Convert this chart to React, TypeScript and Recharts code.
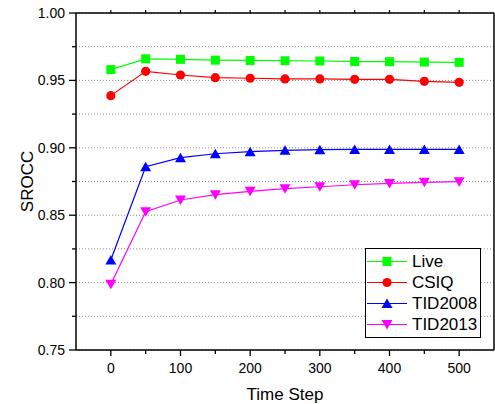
import { LineChart, Line, XAxis, YAxis, CartesianGrid, Legend } from 'recharts'

const FONT = '"Liberation Sans", Arial, sans-serif'

// values
const TIME_STEPS = [0, 50, 100, 150, 200, 250, 300, 350, 400, 450, 500]
const LIVE = [0.958, 0.966, 0.9656, 0.965, 0.9648, 0.9646, 0.9644, 0.964, 0.9639, 0.9636, 0.9634]
const CSIQ = [0.9387, 0.9567, 0.954, 0.952, 0.9516, 0.9511, 0.9511, 0.9508, 0.9508, 0.9493, 0.9486]
const TID2008 = [0.8168, 0.886, 0.8927, 0.8956, 0.8971, 0.8981, 0.8986, 0.8988, 0.8988, 0.8988, 0.8988]
const TID2013 = [0.7987, 0.8526, 0.8613, 0.8652, 0.8677, 0.8697, 0.8711, 0.8726, 0.8736, 0.8744, 0.8749]

const X_TICKS = [0, 50, 100, 150, 200, 250, 300, 350, 400, 450, 500]
const Y_TICKS = [0.75, 0.775, 0.8, 0.825, 0.85, 0.875, 0.9, 0.925, 0.95, 0.975, 1.0]

const data = TIME_STEPS.map((t, i) => ({
  t,
  Live: LIVE[i],
  CSIQ: CSIQ[i],
  TID2008: TID2008[i],
  TID2013: TID2013[i],
}))

type Shape = 'square' | 'circle' | 'up' | 'down'

const SERIES: { key: string; color: string; shape: Shape }[] = [
  { key: 'Live', color: '#00ff00', shape: 'square' },
  { key: 'CSIQ', color: '#ff0000', shape: 'circle' },
  { key: 'TID2008', color: '#0000ff', shape: 'up' },
  { key: 'TID2013', color: '#ff00ff', shape: 'down' },
]

function Marker({ cx, cy, shape, color }: { cx: number; cy: number; shape: Shape; color: string }) {
  if (shape === 'square') return <rect x={cx - 4.5} y={cy - 4.5} width={9} height={9} fill={color} />
  if (shape === 'circle') return <circle cx={cx} cy={cy} r={4.6} fill={color} />
  if (shape === 'up')
    return <polygon points={`${cx},${cy - 5} ${cx + 5.5},${cy + 4.5} ${cx - 5.5},${cy + 4.5}`} fill={color} />
  return <polygon points={`${cx},${cy + 5} ${cx + 5.5},${cy - 4.5} ${cx - 5.5},${cy - 4.5}`} fill={color} />
}

const isMajorY = (v: number) => Math.round(v * 1000) % 50 === 0

const BottomTick = (props: any) => {
  const { x, y, payload } = props
  const major = payload.value % 100 === 0
  return (
    <g>
      <line x1={x} x2={x} y1={y} y2={y + (major ? 6 : 4)} stroke="#000" strokeWidth={1.3} />
      {major && (
        <text x={x} y={y + 22.5} textAnchor="middle" fontSize={14} fontFamily={FONT} fill="#000">
          {payload.value}
        </text>
      )}
    </g>
  )
}

const TopTick = (props: any) => {
  const { x, y } = props
  return <line x1={x} x2={x} y1={y} y2={y - 3} stroke="#000" strokeWidth={1.2} />
}

const LeftTick = (props: any) => {
  const { x, y, payload } = props
  const major = isMajorY(payload.value)
  return (
    <g>
      <line x1={x - (major ? 7 : 4)} x2={x} y1={y} y2={y} stroke="#000" strokeWidth={1.3} />
      {major && (
        <text x={x - 11} y={y} dy="0.36em" textAnchor="end" fontSize={14} fontFamily={FONT} fill="#000">
          {payload.value.toFixed(2)}
        </text>
      )}
    </g>
  )
}

const RightTick = (props: any) => {
  const { x, y } = props
  return <line x1={x - 4} x2={x} y1={y} y2={y} stroke="#000" strokeWidth={1.2} />
}

// legend keeps the plotting order of the series
const LegendBox = () => (
  <div
    style={{
      border: '1px solid #000',
      background: '#fff',
      width: 114,
      padding: '2px 0',
      fontFamily: FONT,
      fontSize: 17,
      color: '#000',
    }}
  >
    {SERIES.map(s => (
      <div key={s.key} style={{ display: 'flex', alignItems: 'center', height: 21 }}>
        <svg width={42} height={21} style={{ display: 'block', flex: 'none' }}>
          <line x1={1} x2={41} y1={10.5} y2={10.5} stroke={s.color} strokeWidth={1.2} />
          <Marker cx={21} cy={10.5} shape={s.shape} color={s.color} />
        </svg>
        <span style={{ marginLeft: 4, lineHeight: '21px' }}>{s.key}</span>
      </div>
    ))}
  </div>
)

export default function App() {
  return (
    <div style={{ position: 'absolute', left: 0, top: 0, background: '#fff' }}>
      <LineChart width={495} height={404} data={data} margin={{ top: 12, right: 0, bottom: 0, left: 0 }}>
        <CartesianGrid
          yAxisId="left"
          vertical={false}
          stroke="#8a8a8a"
          strokeDasharray="1 2"
        />
        <XAxis
          dataKey="t"
          type="number"
          domain={[-50, 550]}
          ticks={X_TICKS}
          height={54}
          tickSize={0}
          tickMargin={0}
          tickLine={false}
          tick={<BottomTick />}
          axisLine={{ stroke: '#000', strokeWidth: 1.5 }}
          interval={0}
          label={{
            value: 'Time Step',
            position: 'insideBottom',
            offset: 4,
            style: { fontSize: 17, fontFamily: FONT, fill: '#000' },
          }}
        />
        <XAxis
          xAxisId="top"
          orientation="top"
          dataKey="t"
          type="number"
          domain={[-50, 550]}
          ticks={X_TICKS}
          height={1}
          tickSize={0}
          tickMargin={0}
          tickLine={false}
          tick={<TopTick />}
          interval={0}
          axisLine={{ stroke: '#000', strokeWidth: 1.5 }}
        />
        <YAxis
          yAxisId="left"
          type="number"
          domain={[0.75, 1.0]}
          ticks={Y_TICKS}
          width={76}
          tickSize={0}
          tickMargin={0}
          tickLine={false}
          tick={<LeftTick />}
          interval={0}
          axisLine={{ stroke: '#000', strokeWidth: 1.5 }}
          label={{
            value: 'SROCC',
            angle: -90,
            position: 'insideLeft',
            offset: 27,
            textAnchor: 'middle',
            style: { fontSize: 17, fontFamily: FONT, fill: '#000', textAnchor: 'middle' },
          }}
        />
        <YAxis
          yAxisId="right"
          orientation="right"
          type="number"
          domain={[0.75, 1.0]}
          ticks={Y_TICKS}
          width={1}
          tickSize={0}
          tickMargin={0}
          tickLine={false}
          tick={<RightTick />}
          interval={0}
          axisLine={{ stroke: '#000', strokeWidth: 1.5 }}
        />
        <Legend
          layout="vertical"
          align="center"
          verticalAlign="middle"
          content={<LegendBox />}
          wrapperStyle={{ left: 365, top: 248, width: 'auto', right: 'auto' }}
        />
        {SERIES.map(s => (
          <Line
            key={s.key}
            yAxisId="left"
            dataKey={s.key}
            name={s.key}
            type="linear"
            stroke={s.color}
            strokeWidth={1.2}
            isAnimationActive={false}
            dot={(p: any) => <Marker key={`${s.key}-${p.index}`} cx={p.cx} cy={p.cy} shape={s.shape} color={s.color} />}
            activeDot={false}
          />
        ))}
      </LineChart>
    </div>
  )
}
